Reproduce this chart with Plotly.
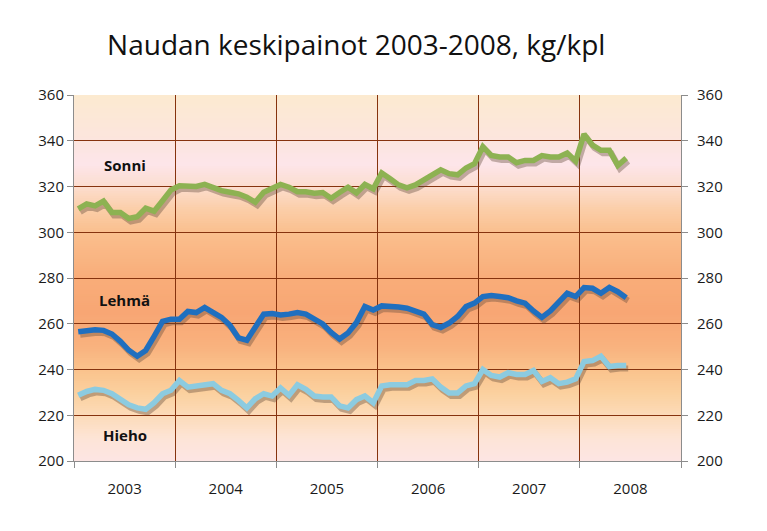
import plotly.graph_objects as go

# Monthly averages Jan 2003 .. Jun 2008, kg per animal
YEARS = ["2003", "2004", "2005", "2006", "2007", "2008"]

sonni = [
    310.2, 312.4, 311.5, 313.6, 308.6, 308.6, 306.0, 306.8, 310.5, 309.2, 313.8, 318.5,
    320.3, 320.0, 320.0, 320.9, 319.4, 318.2, 317.5, 316.8, 315.3, 313.1, 317.5, 319.3,
    320.9, 319.7, 317.7, 317.7, 317.1, 317.4, 314.9, 317.4, 319.7, 317.2, 320.9, 319.0,
    325.9, 323.4, 320.7, 319.4, 320.7, 322.9, 324.8, 327.3, 325.6, 325.1, 328.1, 330.0,
    337.4, 333.6, 332.9, 332.9, 330.4, 331.4, 331.4, 333.5, 332.9, 332.9, 334.6, 331.1,
    342.9, 338.1, 335.8, 335.8, 329.2, 332.4,
]
lehma = [
    256.5, 257.2, 257.4, 257.1, 255.5, 252.3, 248.4, 245.8, 248.3, 254.5, 261.0, 262.0,
    262.0, 265.4, 264.9, 267.1, 264.6, 262.8, 259.3, 253.8, 252.8, 258.1, 264.2, 264.5,
    263.8, 264.2, 264.9, 264.2, 261.7, 259.9, 256.2, 253.3, 256.0, 260.5, 267.5, 266.0,
    267.8, 267.8, 267.3, 266.8, 265.6, 264.2, 259.6, 258.4, 260.3, 263.2, 267.5, 269.0,
    271.9, 272.3, 271.9, 271.4, 270.0, 269.0, 265.6, 262.8, 265.6, 269.7, 273.3, 271.9,
    275.8, 275.5, 273.3, 275.9, 274.0, 271.4,
]
hieho = [
    228.7, 230.4, 231.3, 230.9, 229.4, 227.2, 224.6, 223.2, 222.6, 225.5, 229.4, 230.9,
    235.2, 232.3, 232.8, 233.5, 233.8, 230.9, 229.4, 226.5, 223.2, 227.2, 229.4, 228.4,
    231.9, 228.7, 233.3, 231.3, 228.4, 228.0, 228.0, 224.1, 223.2, 226.8, 228.4, 225.5,
    232.8, 233.3, 233.3, 233.3, 235.2, 235.2, 235.9, 232.3, 229.7, 229.7, 232.8, 233.8,
    240.0, 237.4, 236.7, 238.6, 237.8, 237.8, 239.6, 234.8, 236.4, 233.8, 234.5, 235.9,
    243.5, 243.9, 245.8, 241.3, 241.7, 241.7,
]

SERIES = [
    ("Sonni", sonni, "#8db252", 329.5),
    ("Lehmä", lehma, "#1f6fbf", 270.5),
    ("Hieho", hieho, "#8ccbe0", 211.5),
]

months = [i + 0.5 for i in range(len(sonni))]
year_centers = [12 * k + 6 for k in range(len(YEARS))]

GRID = "#86330e"
AXIS = "#8c8c8c"
FONT = "Open Sans"

# background gradient stops (value -> rgb)
BG_STOPS = [
    (200, (253, 229, 228)), (210, (253, 228, 214)), (220, (252, 219, 184)),
    (230, (251, 208, 158)), (240, (250, 194, 140)), (250, (249, 178, 126)),
    (265, (248, 166, 116)), (280, (249, 173, 121)), (300, (250, 191, 142)),
    (310, (251, 206, 168)), (320, (252, 221, 207)), (330, (253, 229, 234)),
    (340, (252, 229, 222)), (360, (252, 234, 208)),
]


def _bg_color(v):
    for (v0, c0), (v1, c1) in zip(BG_STOPS, BG_STOPS[1:]):
        if v0 <= v <= v1:
            t = (v - v0) / (v1 - v0)
            r, g, b = (round(a + (b_ - a) * t) for a, b_ in zip(c0, c1))
            return f"rgb({r},{g},{b})"
    return "rgb(252,234,208)"


fig = go.Figure()

# drop shadows on hidden base axes (slightly shifted ranges)
for name, vals, color, _ in SERIES:
    fig.add_trace(go.Scatter(
        x=months, y=vals, mode="lines", xaxis="x", yaxis="y",
        line=dict(color="rgba(95,70,55,0.38)", width=6),
        hoverinfo="skip", showlegend=False,
    ))

for name, vals, color, _ in SERIES:
    fig.add_trace(go.Scatter(
        x=months, y=vals, mode="lines", name=name, xaxis="x2", yaxis="y2",
        line=dict(color=color, width=5.5), showlegend=False,
    ))

# invisible trace to give the right-hand axis its labels
fig.add_trace(go.Scatter(x=[None], y=[None], xaxis="x2", yaxis="y3",
                         showlegend=False, hoverinfo="skip"))

# gradient background, drawn as overlapping strips so no seams show
shapes = []
for v in range(200, 360):
    shapes.append(dict(
        type="rect", xref="paper", yref="y2", x0=0, x1=1, y0=v, y1=min(v + 1.6, 360),
        fillcolor=_bg_color(v + 0.5), line=dict(width=0), layer="below",
    ))

annotations = [
    dict(x=6, y=lab_y, xref="x2", yref="y2", text=f"<b>{name}</b>",
         showarrow=False, font=dict(family=FONT, size=15, color="#111111"))
    for name, _, _, lab_y in SERIES
]

dx = 2 / 8.43
dy = 3 / 2.2875
fig.update_layout(
    width=767, height=531,
    margin=dict(l=66, r=94, t=87, b=78),
    paper_bgcolor="white",
    plot_bgcolor="rgba(0,0,0,0)",
    title=dict(text="Naudan keskipainot 2003-2008, kg/kpl", x=0.454, xanchor="center",
               y=0.93, yanchor="middle", font=dict(family=FONT, size=28, color="#111111")),
    font=dict(family=FONT, size=15, color="#1a1a1a"),
    shapes=shapes,
    annotations=annotations,
    xaxis=dict(range=[-dx, 72 - dx], visible=False, fixedrange=True),
    yaxis=dict(range=[200 + dy, 360 + dy], visible=False, fixedrange=True),
    xaxis2=dict(
        overlaying="x", range=[0, 72], tickvals=year_centers, ticktext=YEARS,
        ticks="", showgrid=False, zeroline=False, showline=True, linecolor=AXIS,
        linewidth=1, ticklabelstandoff=14,
        minor=dict(tick0=0, dtick=12, showgrid=True, gridcolor=GRID, gridwidth=1.3,
                   ticks="outside", ticklen=6, tickcolor=AXIS),
    ),
    yaxis2=dict(
        overlaying="y", range=[200, 360], dtick=20, side="left", showgrid=True,
        gridcolor=GRID, gridwidth=1.3, zeroline=False, showline=True, linecolor=AXIS,
        ticks="outside", ticklen=6, tickcolor=AXIS,
    ),
    yaxis3=dict(
        overlaying="y", range=[200, 360], dtick=20, side="right", showgrid=False,
        zeroline=False, showline=True, linecolor=AXIS, ticks="outside", ticklen=6,
        tickcolor=AXIS, anchor="x2", ticklabelstandoff=6,
    ),
)

fig.write_html("out.html")
